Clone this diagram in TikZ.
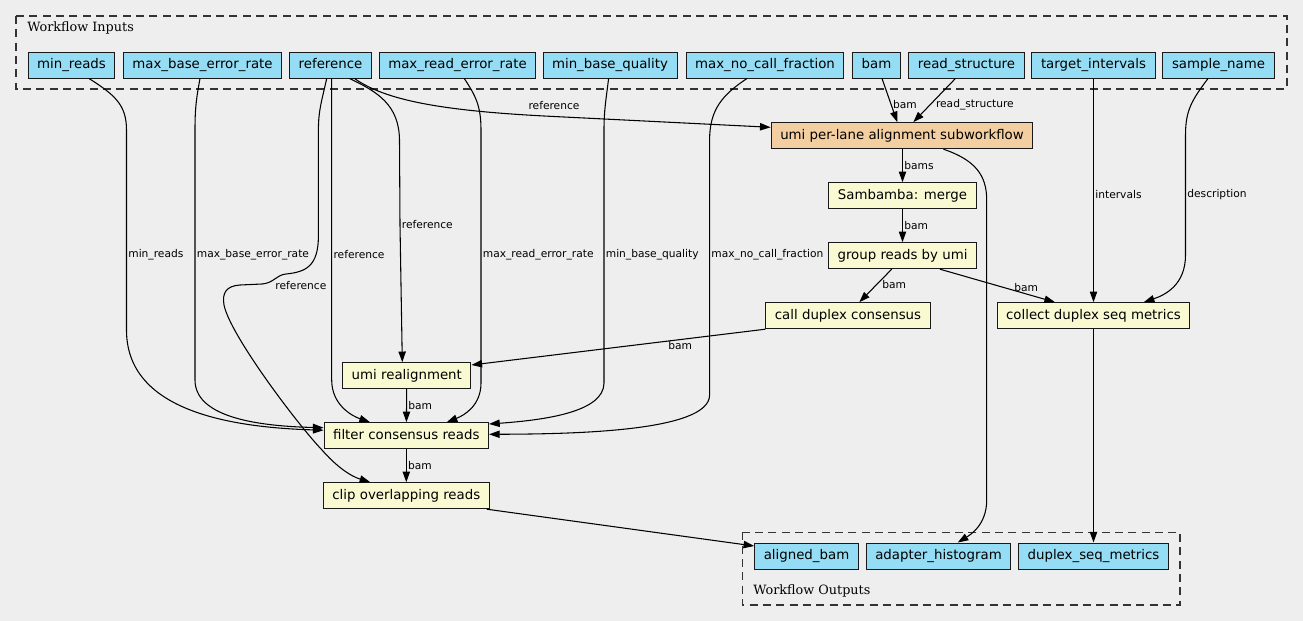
\documentclass[tikz,border=0pt]{standalone}
\usepackage{fontspec}
\setmainfont{DejaVu Sans}
\newfontfamily\clusterfont{DejaVu Serif}
\usetikzlibrary{arrows.meta,calc}

\definecolor{bgGrey}{HTML}{EEEEEE}
\definecolor{ioBlue}{HTML}{94DDF4}
\definecolor{taskYellow}{HTML}{FAFAD2}
\definecolor{subOrange}{HTML}{F3CEA1}

\begin{document}
\begin{tikzpicture}[x=0.75pt,y=-0.75pt,
 >={Triangle[length=8pt,width=5.5pt]},
 box/.style={draw=black!90,line width=0.75pt,minimum height=19.5pt,inner xsep=6.8pt,inner ysep=0pt,
   text height=7.4pt,text depth=2.2pt,font=\fontsize{10}{12}\selectfont},
 io/.style={box,fill=ioBlue},
 task/.style={box,fill=taskYellow},
 subwf/.style={box,fill=subOrange},
 elab/.style={font=\fontsize{8}{9.6}\selectfont,inner sep=1pt},
 wire/.style={->,line width=0.8pt},
 cluster/.style={draw=black!80,line width=0.9pt,dash pattern=on 6pt off 4pt},
 ctitle/.style={font=\clusterfont\fontsize{9.6}{11}\selectfont,anchor=west,inner sep=0pt}]

 \fill[bgGrey] (0,0) rectangle (1303,621);

 % clusters
 \draw[cluster] (16,16) rectangle (1287,89);
 \node[ctitle] (inTitle) at (27,27.7) {Workflow Inputs};
 \draw[cluster] (742.3,532.3) rectangle (1180,605);
 \node[ctitle] (outTitle) at (753,591) {Workflow Outputs};

 % workflow inputs
 \node[io] (inMinReads) at (71.5,65) {min\_reads};
 \node[io] (inMaxBaseErr) at (202.5,65) {max\_base\_error\_rate};
 \node[io] (inReference) at (330.5,65) {reference};
 \node[io] (inMaxReadErr) at (457.5,65) {max\_read\_error\_rate};
 \node[io] (inMinBaseQual) at (610,65) {min\_base\_quality};
 \node[io] (inMaxNoCall) at (765,65) {max\_no\_call\_fraction};
 \node[io] (inBam) at (876.5,65) {bam};
 \node[io] (inReadStruct) at (966.5,65) {read\_structure};
 \node[io] (inTargets) at (1093.5,65) {target\_intervals};
 \node[io] (inSample) at (1218.5,65) {sample\_name};

 % tasks
 \node[subwf] (umiAlign) at (902,135.7) {umi per-lane alignment subworkflow};
 \node[task] (merge) at (902.5,195.7) {Sambamba: merge};
 \node[task] (group) at (902.5,255.7) {group reads by umi};
 \node[task] (callDuplex) at (848,315.7) {call duplex consensus};
 \node[task] (collectMetrics) at (1093.5,315.7) {collect duplex seq metrics};
 \node[task] (realign) at (406.8,375.7) {umi realignment};
 \node[task] (filterReads) at (406.3,435.7) {filter consensus reads};
 \node[task] (clipReads) at (406.3,495.7) {clip overlapping reads};

 % workflow outputs
 \node[io] (outBam) at (806.5,556) {aligned\_bam};
 \node[io] (outHist) at (938.5,556) {adapter\_histogram};
 \node[io] (outMetrics) at (1093.5,556) {duplex\_seq\_metrics};

 % long input wires
 \draw[wire] ($(inMinReads.south)+(17.5,0)$) .. controls (115,95) and (126.5,105) .. (126.5,130)
   -- (126.5,255) node[elab,anchor=west] (lMinReads) {min\_reads}
   -- (126.5,330) .. controls (126.5,405) and (215,427) .. ($(filterReads.west)+(0,-5.5)$);
 \draw[wire] ($(inMaxBaseErr.south)+(-2.5,0)$) .. controls (196,100) and (195,110) .. (195,130)
   -- (195,255) node[elab,anchor=west] (lMaxBaseErr) {max\_base\_error\_rate}
   -- (195,380) .. controls (195,415) and (250,426) .. ($(filterReads.west)+(0,-8)$);
 \draw[wire] ($(inReference.south)+(-3.8,0)$) .. controls (322,100) and (318.4,110) .. (318.4,130)
   -- (318.4,236) .. controls (318.4,266) and (306,272) .. (286,274)
   node[elab,anchor=west,xshift=-9.3pt,yshift=-8.3pt] (lRefClip) {reference}
   .. controls (276,275) and (274,283) .. (262,284)
   -- (240,285) .. controls (226,286) and (222,293) .. (224,305)
   .. controls (230,335) and (298,425) .. (322,450)
   .. controls (336,466) and (350,476) .. ($(clipReads.north)+(-36,0)$);
 \draw[wire] ($(inReference.south)+(1.2,0)$) -- (331.7,255) node[elab,anchor=west] (lRefFilter) {reference}
   -- (331.7,380) .. controls (331.7,405) and (352,416) .. ($(filterReads.north)+(-36.3,0)$);
 \draw[wire] ($(inReference.south)+(19,0)$) .. controls (378,92) and (399,105) .. (399.5,140)
   -- (400,225) node[elab,anchor=west] (lRefRealign) {reference}
   -- ($(realign.north)+(-4.5,0)$);
 \draw[wire] ($(inReference.south)+(24,0)$) .. controls (385,100) and (440,111) .. (554,116.5)
   node[elab,anchor=south,yshift=3.5pt] (lRefUmi) {reference}
   -- ($(umiAlign.west)+(0,-8.4)$);
 \draw[wire] ($(inMaxReadErr.south)+(6.8,0)$) .. controls (475,95) and (481,105) .. (481,130)
   -- (481,255) node[elab,anchor=west] (lMaxReadErr) {max\_read\_error\_rate}
   -- (481,383) .. controls (481,405) and (465,415) .. ($(filterReads.north)+(40.4,0)$);
 \draw[wire] ($(inMinBaseQual.south)+(-1.4,0)$) .. controls (606,100) and (604,110) .. (604,130)
   -- (604,255) node[elab,anchor=west] (lMinBaseQual) {min\_base\_quality}
   -- (604,383) .. controls (604,412) and (545,420) .. ($(filterReads.east)+(0,-11.7)$);
 \draw[wire] ($(inMaxNoCall.south)+(-18,0)$) .. controls (722,95) and (709.6,110) .. (709.6,140)
   -- (709.6,255) node[elab,anchor=west] (lMaxNoCall) {max\_no\_call\_fraction}
   -- (709.6,395) .. controls (709.6,432) and (570,434) .. ($(filterReads.east)+(0,-1.4)$);
 \draw[wire] ($(inSample.south)+(-10.5,0)$) .. controls (1192,100) and (1185.5,110) .. (1185.5,135)
   -- (1185.5,194.7) node[elab,anchor=west] (lSample) {description}
   -- (1185.5,255) .. controls (1185.5,285) and (1165,295) .. ($(collectMetrics.north)+(50.25,0)$);
 \draw[wire] ($(umiAlign.south)+(41.5,0)$) .. controls (975,160) and (986.7,175) .. (986.7,200)
   -- (986.7,500) .. controls (986.7,525) and (970,535) .. ($(outHist.north)+(19.2,0)$);

 % short wires
 \path[wire]
 ($(inBam.south)+(5.5,0)$) edge node[elab,anchor=west,pos=0.6] (lBam) {bam} ($(umiAlign.north)+(-4.7,0)$)
 ($(inReadStruct.south)+(-11.1,0)$) edge node[elab,anchor=west,pos=0.6,xshift=3pt] (lReadStruct) {read\_structure} ($(umiAlign.north)+(11.3,0)$)
 ($(umiAlign.south)+(0.5,0)$) edge node[elab,anchor=west] (lBams) {bams} (merge)
 (merge) edge node[elab,anchor=west] (lMergeBam) {bam} (group)
 ($(group.south)+(-10.8,0)$) edge node[elab,anchor=west,pos=0.47,xshift=3pt] (lGroupCall) {bam} ($(callDuplex.north)+(11.3,0)$)
 ($(group.south)+(37.5,0)$) edge node[elab,anchor=south,pos=0.75] (lGroupCollect) {bam} ($(collectMetrics.north)+(-38.5,0)$)
 (inTargets) edge node[elab,anchor=west,pos=0.52] (lTargets) {intervals} (collectMetrics)
 (callDuplex.south west) edge node[elab,anchor=north,pos=0.29] (lCallBam) {bam} ($(realign.east)+(0,-10.7)$)
 (realign) edge node[elab,anchor=west] (lRealignBam) {bam} (filterReads)
 (filterReads) edge node[elab,anchor=west] (lFilterBam) {bam} (clipReads)
 ($(clipReads.south east)+(-3,0)$) edge ($(outBam.west)+(0,-10)$)
 (collectMetrics) edge (outMetrics);
\end{tikzpicture}
\end{document}
